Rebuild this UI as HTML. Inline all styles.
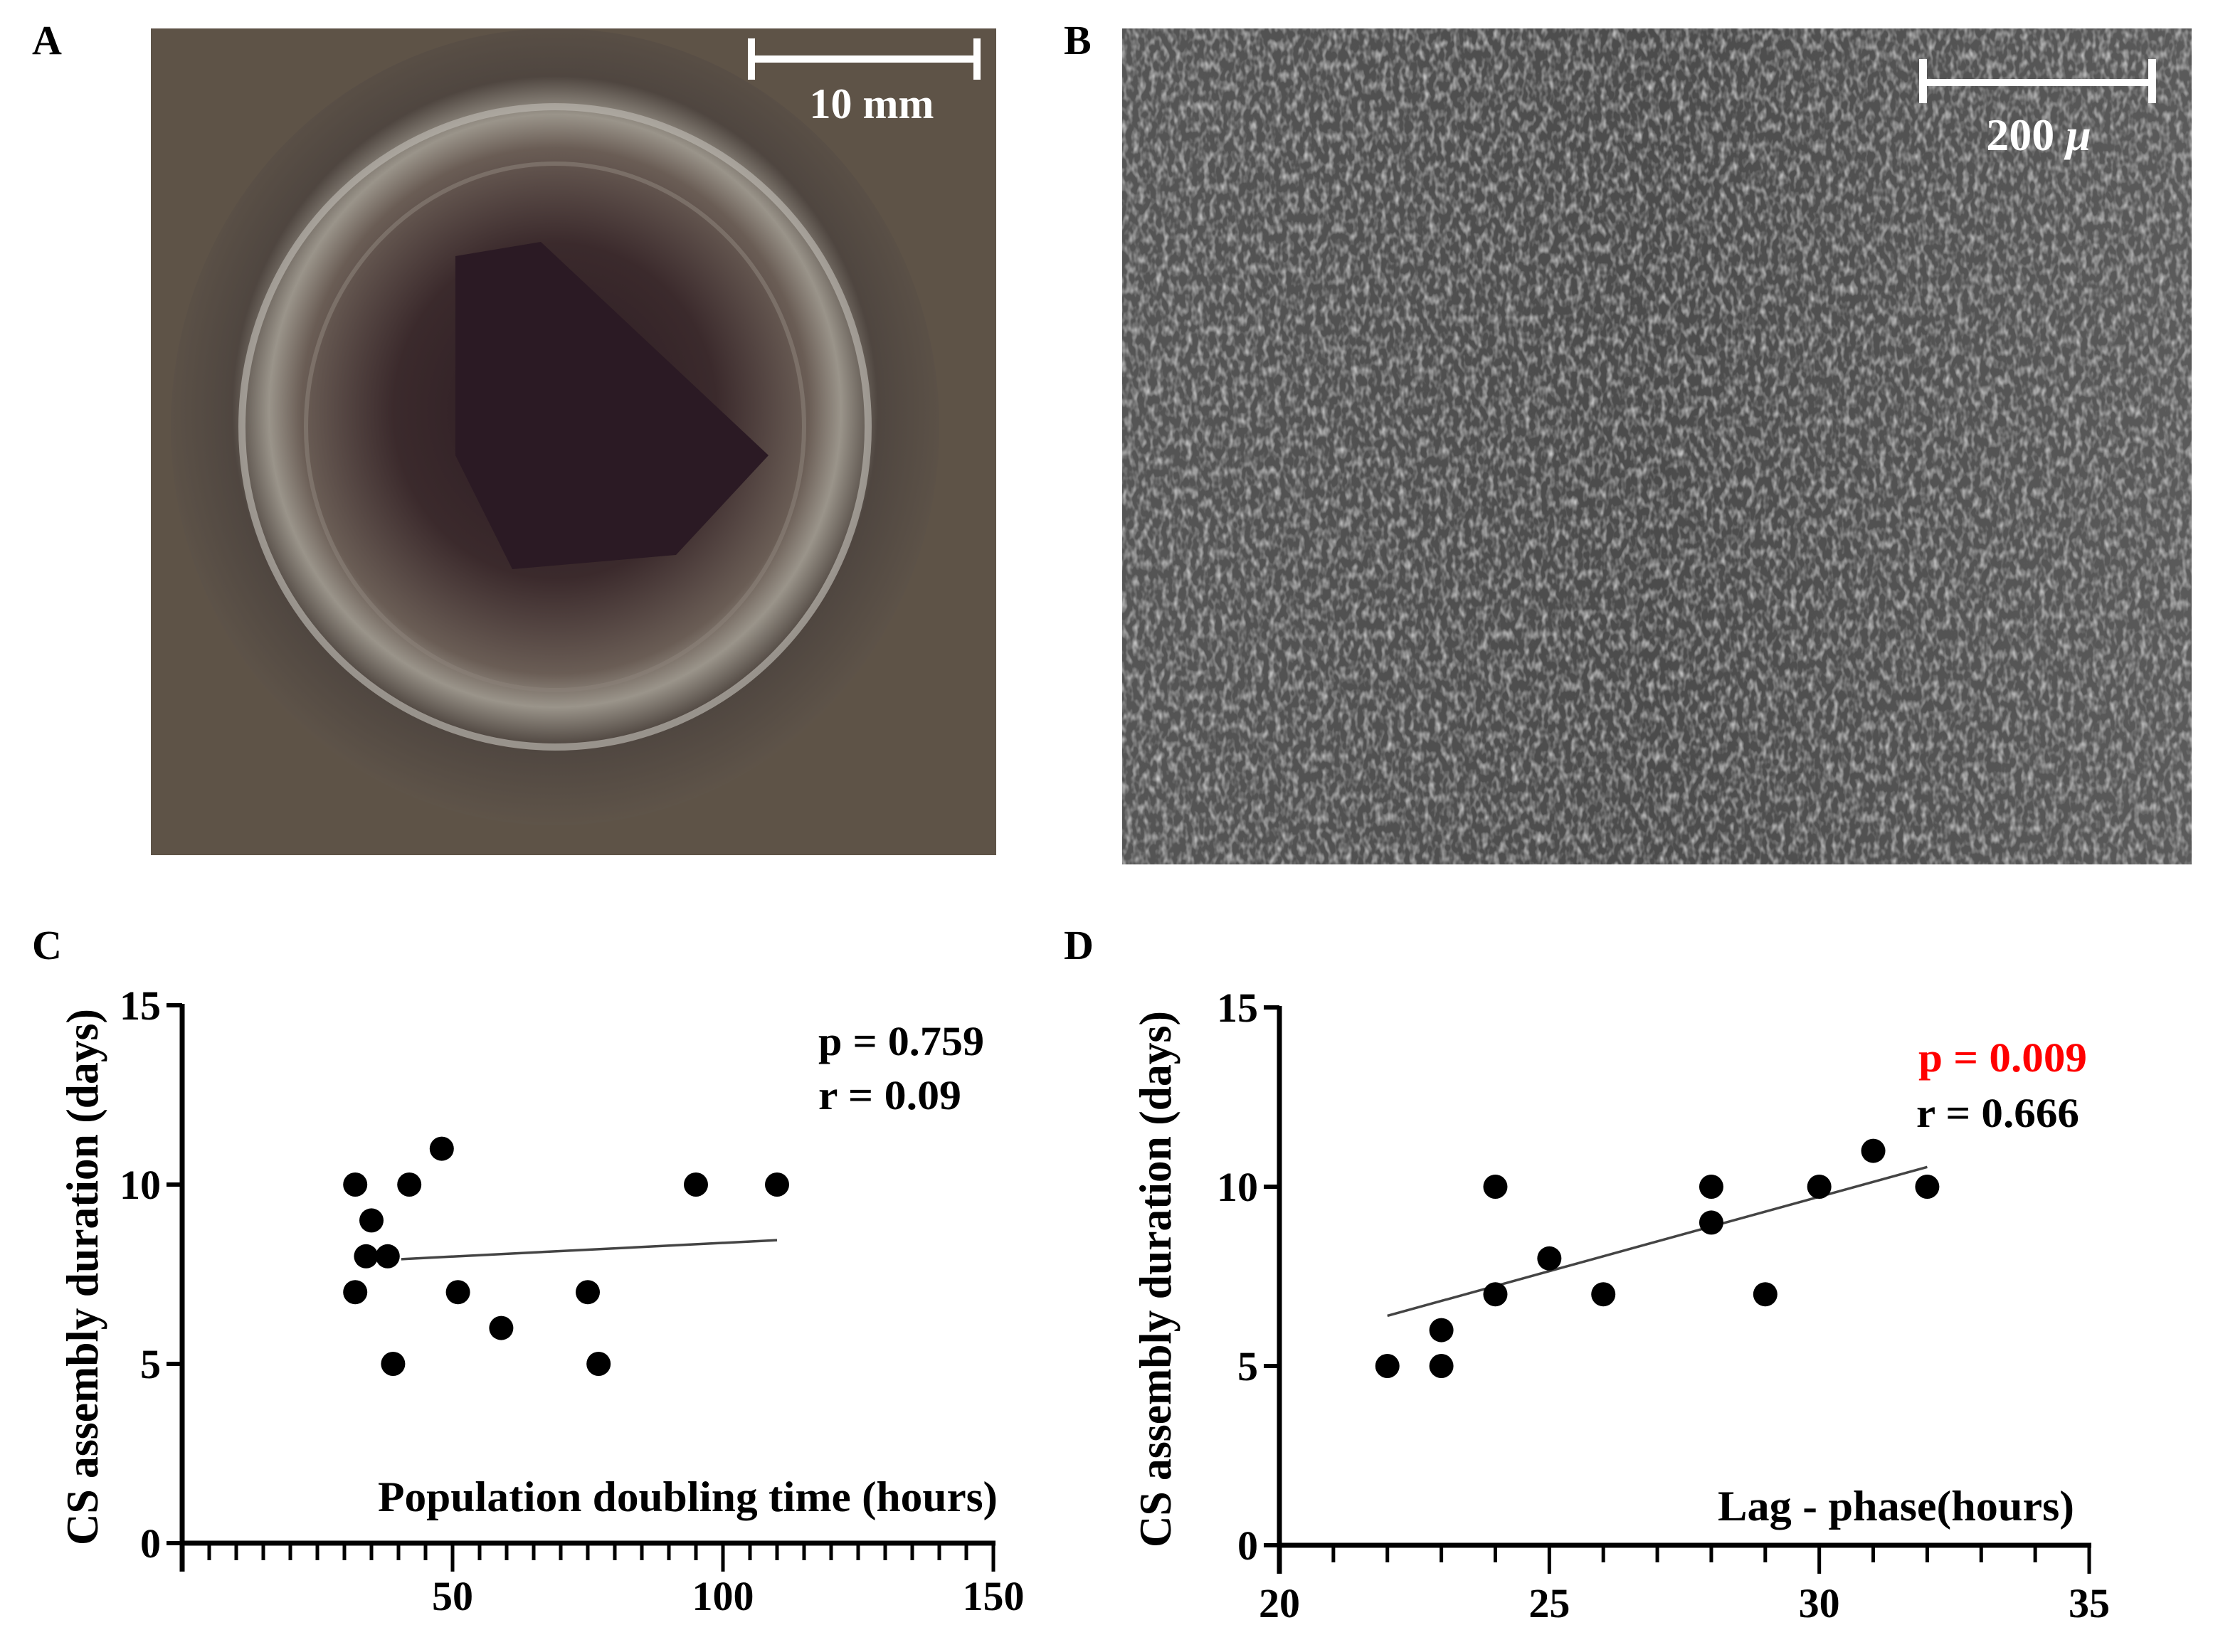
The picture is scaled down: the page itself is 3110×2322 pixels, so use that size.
<!DOCTYPE html>
<html><head><meta charset="utf-8"><style>
html,body{margin:0;padding:0;background:#fff;}
svg{display:block;font-family:"Liberation Serif",serif;font-weight:bold;}
</style></head><body>
<svg id="fig" width="3110" height="2322" viewBox="0 0 3110 2322" xmlns="http://www.w3.org/2000/svg">
<defs>
<radialGradient id="gA" cx="50%" cy="48%" r="60%">
<stop offset="0" stop-color="#2a1a22"/><stop offset="0.35" stop-color="#3b2a2c"/><stop offset="0.55" stop-color="#6a5d55"/><stop offset="0.62" stop-color="#9a948a"/><stop offset="0.7" stop-color="#4f4640"/><stop offset="1" stop-color="#6b5f50"/>
</radialGradient>
<linearGradient id="gB" x1="0" y1="0" x2="1" y2="0">
<stop offset="0" stop-color="#555"/><stop offset="0.5" stop-color="#4b4b4b"/><stop offset="1" stop-color="#5a5a5a"/>
</linearGradient>
<filter id="noise" x="0" y="0" width="100%" height="100%">
<feTurbulence type="fractalNoise" baseFrequency="0.12 0.07" numOctaves="2" seed="3"/>
<feColorMatrix type="matrix" values="0 0 0 0 0.55  0 0 0 0 0.55  0 0 0 0 0.55  0 0 0 2.0 -0.85"/>
</filter>
</defs>

<text x="45" y="76" font-size="58">A</text>
<g>
<rect x="212" y="40" width="1188" height="1162" fill="#5e5347"/>
<ellipse cx="780" cy="600" rx="540" ry="560" fill="url(#gA)"/>
<ellipse cx="780" cy="600" rx="440" ry="450" fill="none" stroke="#b8b4ac" stroke-width="10" opacity="0.7"/>
<ellipse cx="780" cy="600" rx="350" ry="370" fill="none" stroke="#8a8078" stroke-width="6" opacity="0.6"/>
<path d="M640 360 L760 340 L1080 640 L950 780 L720 800 L640 640 Z" fill="#2b1a24"/>
</g>
<g>
<rect x="1051" y="78" width="327" height="10" fill="#fff"/>
<rect x="1051" y="54" width="10" height="58" fill="#fff"/>
<rect x="1368" y="54" width="10" height="58" fill="#fff"/>
<text x="1225" y="166" font-size="60" fill="#fff" text-anchor="middle">10 mm</text>
</g>

<text x="1495" y="76" font-size="58">B</text>
<g>
<rect x="1577" y="40" width="1503" height="1175" fill="url(#gB)"/>
<rect x="1577" y="40" width="1503" height="1175" filter="url(#noise)"/>
</g>
<g>
<rect x="2697" y="111" width="333" height="10" fill="#fff"/>
<rect x="2697" y="83" width="11" height="62" fill="#fff"/>
<rect x="3019" y="83" width="11" height="62" fill="#fff"/>
<text x="2865" y="211" font-size="64" fill="#fff" text-anchor="middle">200 <tspan font-style="italic">μ</tspan></text>
</g>

<text x="45" y="1348" font-size="58">C</text>
<text x="1495" y="1348" font-size="58">D</text>
<g id="chartC"></g>
<g id="chartD"></g>
</svg>
<script>
// Panel C data
const cX = [32, 32, 35, 34, 38, 42, 48, 51, 39, 59, 75, 77, 95, 110];
const cY = [10, 7, 9, 8, 8, 10, 11, 7, 5, 6, 7, 5, 10, 10];
const cFit = [[40.5, 7.92], [110, 8.45]];
const cXTicks = [50, 100, 150];
const cYTicks = [0, 5, 10, 15];
// Panel D data
const dX = [22, 23, 23, 24, 24, 25, 26, 28, 28, 29, 30, 31, 32];
const dY = [5, 6, 5, 10, 7, 8, 7, 10, 9, 7, 10, 11, 10];
const dFit = [[22, 6.4], [32, 10.55]];
const dXTicks = [20, 25, 30, 35];
const dYTicks = [0, 5, 10, 15];

const NS = 'http://www.w3.org/2000/svg';
function mk(parent, tag, attrs, text) {
  const e = document.createElementNS(NS, tag);
  for (const k in attrs) e.setAttribute(k, attrs[k]);
  if (text !== undefined) e.textContent = text;
  parent.appendChild(e);
  return e;
}
function chart(gid, cfg) {
  const g = document.getElementById(gid);
  const sx = v => cfg.x0 + (v - cfg.xmin) / (cfg.xmax - cfg.xmin) * (cfg.x1 - cfg.x0);
  const sy = v => cfg.y0 + (v - cfg.ymin) / (cfg.ymax - cfg.ymin) * (cfg.y1 - cfg.y0);
  let a = mk(g, 'line', {x1: cfg.x0, y1: cfg.y1 - 2, x2: cfg.x0, y2: cfg.y0 + 40, stroke: '#000', 'stroke-width': 7});
  
  
  a = mk(g, 'line', {x1: cfg.x0 - 3, y1: cfg.y0, x2: cfg.x1 + 3, y2: cfg.y0, stroke: '#000', 'stroke-width': 7});
  
  
  cfg.yt.forEach(v => {
    const y = sy(v);
    mk(g, 'line', {x1: cfg.x0 - 22, y1: y, x2: cfg.x0, y2: y, stroke: '#000', 'stroke-width': 6});
    const t = mk(g, 'text', {x: cfg.x0 - 30, y: y + 20, 'font-size': 58, 'text-anchor': 'end'}, String(v));
    
    
  });
  for (let v = cfg.xmin; v <= cfg.xmax + 1e-9; v += cfg.minor) {
    const x = sx(v);
    const major = cfg.xt.some(m => Math.abs(m - v) < 1e-9);
    mk(g, 'line', {x1: x, y1: cfg.y0, x2: x, y2: cfg.y0 + (major ? 40 : 24), stroke: '#000', 'stroke-width': 5});
  }
  cfg.xt.forEach(v => {
    const t = mk(g, 'text', {x: sx(v), y: cfg.xlabY, 'font-size': 58, 'text-anchor': 'middle'}, String(v));
    
    
  });
  const f = mk(g, 'line', {x1: sx(cfg.fit[0][0]), y1: sy(cfg.fit[0][1]), x2: sx(cfg.fit[1][0]), y2: sy(cfg.fit[1][1]), stroke: '#444', 'stroke-width': 3.5});
  
  
  cfg.xs.forEach((v, i) => {
    const c = mk(g, 'ellipse', {cx: sx(v), cy: sy(cfg.ys[i]), rx: 17, ry: 17, fill: '#000'});
    
    
  });
  const yt = mk(g, 'text', {x: 0, y: 0, 'font-size': 64, 'text-anchor': 'middle', transform: 'translate(' + cfg.ytitleX + ',' + ((cfg.y0 + cfg.y1) / 2 + 4) + ') rotate(-90)', textLength: 754, lengthAdjust: 'spacingAndGlyphs'}, 'CS assembly duration (days)');
  
  
  const xt = mk(g, 'text', {x: cfg.xtitle[0], y: cfg.xtitle[1], 'font-size': 60, textLength: cfg.xtitle[2], lengthAdjust: 'spacingAndGlyphs'}, cfg.xtitleText);
  
  
  cfg.stats.forEach(s => {
    const t = mk(g, 'text', {x: s[0], y: s[1], 'font-size': 58, fill: s[3], textLength: s[2], lengthAdjust: 'spacingAndGlyphs'}, s[4]);
    
    
  });
}
chart('chartC', {x0: 256, x1: 1396, xmin: 0, xmax: 150, y0: 2169, y1: 1413, ymin: 0, ymax: 15,
  xs: cX, ys: cY, fit: cFit, xt: cXTicks, yt: cYTicks, minor: 5, xlabY: 2263, ytitleX: 137,
  xtitle: [531, 2124, 871], xtitleText: 'Population doubling time (hours)',
  stats: [[1150, 1483, 233, '#000', 'p = 0.759', 'p-value-c'], [1150, 1559, 201, '#000', 'r = 0.09', 'r-value-c']]});
chart('chartD', {x0: 1798, x1: 2936, xmin: 20, xmax: 35, y0: 2172, y1: 1416, ymin: 0, ymax: 15,
  xs: dX, ys: dY, fit: dFit, xt: dXTicks, yt: dYTicks, minor: 1, xlabY: 2273, ytitleX: 1645,
  xtitle: [2414, 2137, 501], xtitleText: 'Lag - phase(hours)',
  stats: [[2696, 1506, 237, '#f00', 'p = 0.009', 'p-value-d'], [2693, 1584, 229, '#000', 'r = 0.666', 'r-value-d']]});
</script>
</body></html>
